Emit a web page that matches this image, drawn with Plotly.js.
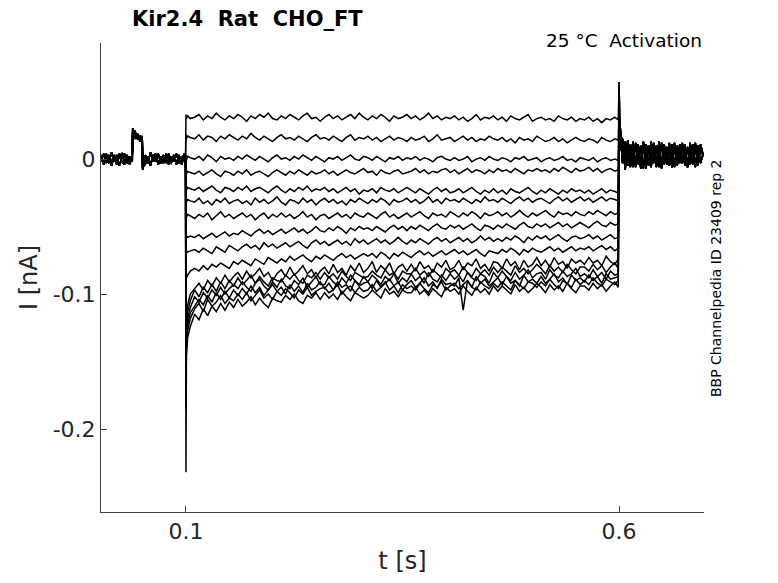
<!DOCTYPE html>
<html>
<head>
<meta charset="utf-8">
<script src="https://cdn.plot.ly/plotly-3.0.1.min.js"></script>
<style>
  body { margin: 0; background: #fff; }
  #chart { width: 778px; height: 583px; }
</style>
</head>
<body>
<div id="chart"></div>
<script>
// currents in pA, plotted in nA

// baseline before the step (three sweeps' worth of noise, small test pulse at ~0.04 s)
const tPre = [0.002, 0.005, 0.008, 0.011, 0.014, 0.017, 0.020, 0.023, 0.026, 0.029,
    0.032, 0.035, 0.038, 0.0385, 0.041, 0.044, 0.047, 0.0495, 0.050, 0.053,
    0.056, 0.059, 0.062, 0.065, 0.068, 0.071, 0.074, 0.077, 0.080, 0.083,
    0.086, 0.089, 0.092, 0.095, 0.098, 0.0995];
const preA = [3, -4, 2, -3, 5, -2, 3, -5, 1, 4, -3, 2, -2, 20, 16, 18, 14, 17, -6,
    -4, 2, -5, 3, -2, 4, -3, 1, 3, -4, 2, -2, 4, -3, 1, 3, 2];
const preB = [-2, 4, -3, 3, -5, 2, -3, 4, -2, -4, 3, -2, 3, 23, 15, 19, 13, 16, -8,
    2, -3, 5, -2, 3, -4, 2, -3, 4, -1, -3, 3, -4, 2, -2, 4, -2];
const preC = [2, -3, 4, -1, -2, 3, -4, 2, 4, -2, 1, -4, 2, 18, 21, 15, 17, 12, -7,
    3, -2, -4, 2, 4, -3, -2, 3, -3, 4, -2, 1, -3, 3, -4, 2, -3];

// the voltage step, 0.1 .. 0.6 s
const tStep = [0.1, 0.1005, 0.102, 0.105,
    0.110, 0.115, 0.120, 0.125, 0.130, 0.135, 0.140, 0.145, 0.150, 0.155,
    0.160, 0.165, 0.170, 0.175, 0.180, 0.185, 0.190, 0.195, 0.200, 0.205,
    0.210, 0.215, 0.220, 0.225, 0.230, 0.235, 0.240, 0.245, 0.250, 0.255,
    0.260, 0.265, 0.270, 0.275, 0.280, 0.285, 0.290, 0.295, 0.300, 0.305,
    0.310, 0.315, 0.320, 0.325, 0.330, 0.335, 0.340, 0.345, 0.350, 0.355,
    0.360, 0.365, 0.370, 0.375, 0.380, 0.385, 0.390, 0.395, 0.400, 0.405,
    0.410, 0.415, 0.420, 0.425, 0.430, 0.435, 0.440, 0.445, 0.450, 0.455,
    0.460, 0.465, 0.470, 0.475, 0.480, 0.485, 0.490, 0.495, 0.500, 0.505,
    0.510, 0.515, 0.520, 0.525, 0.530, 0.535, 0.540, 0.545, 0.550, 0.555,
    0.560, 0.565, 0.570, 0.575, 0.580, 0.585, 0.590, 0.595, 0.599];

const stepA = [33, 30, 32, 30,
    31, 33, 29, 32, 30, 34, 31, 29, 32, 30,
    33, 31, 28, 32, 30, 33, 31, 34, 30, 29,
    32, 30, 33, 31, 29, 32, 34, 30, 31, 28,
    31, 33, 30, 32, 29, 31, 33, 30, 34, 31,
    29, 32, 30, 33, 31, 28, 32, 30, 31, 33,
    30, 32, 29, 31, 34, 30, 32, 29, 31, 30,
    32, 29, 31, 28, 30, 33, 29, 31, 30, 32,
    29, 31, 28, 32, 30, 29, 31, 33, 28, 30,
    31, 29, 30, 28, 32, 30, 29, 31, 28, 30,
    29, 31, 28, 30, 27, 30, 29, 31, 29];
const stepB = [18, 15, 17, 16,
    15, 18, 14, 17, 16, 13, 17, 15, 18, 16,
    14, 17, 15, 19, 16, 14, 17, 15, 13, 16,
    18, 15, 16, 14, 17, 15, 13, 16, 18, 15,
    16, 14, 17, 15, 13, 16, 18, 14, 16, 15,
    17, 14, 16, 13, 15, 17, 14, 16, 15, 13,
    16, 14, 15, 17, 13, 15, 18, 14, 15, 16,
    13, 15, 17, 14, 16, 13, 15, 14, 17, 15,
    14, 16, 13, 15, 12, 16, 14, 15, 13, 17,
    15, 13, 14, 16, 13, 15, 12, 14, 16, 14,
    13, 15, 14, 12, 16, 14, 13, 15, 14];
const stepC = [3, -1, 2, 1,
    0, 2, -1, 3, 1, -2, 2, 0, 1, -1,
    2, 0, 3, 1, -1, 2, 0, -2, 1, 3,
    0, 1, -1, 2, 0, 3, 1, -1, 2, 0,
    -2, 1, 0, 2, -1, 1, 3, 0, -1, 2,
    1, -1, 2, 0, -2, 1, 0, 2, -1, 1,
    0, 2, -1, 1, 0, -2, 1, 2, 0, -1,
    1, -1, 0, 2, -2, 0, 1, -1, 2, 0,
    -1, 1, 0, -2, 1, 0, 2, -1, 0, 1,
    -2, 0, 1, -1, 0, 2, -1, 0, -2, 1,
    0, -1, 1, -2, 0, 1, -1, 0, -1];
const stepD = [-6, -11, -9, -10,
    -11, -9, -12, -10, -8, -11, -13, -9, -10, -12,
    -9, -11, -8, -12, -10, -9, -11, -13, -10, -8,
    -10, -12, -9, -11, -8, -10, -12, -9, -11, -10,
    -8, -11, -9, -12, -10, -8, -10, -11, -9, -7,
    -10, -9, -12, -8, -10, -11, -9, -8, -11, -10,
    -9, -7, -10, -8, -11, -9, -10, -8, -7, -10,
    -8, -11, -9, -7, -10, -8, -9, -11, -8, -10,
    -7, -9, -8, -10, -7, -9, -11, -8, -9, -7,
    -9, -8, -10, -7, -9, -6, -8, -10, -7, -9,
    -8, -6, -9, -7, -10, -8, -7, -9, -8];
const stepE = [-18, -23, -21, -22,
    -23, -21, -24, -22, -20, -23, -25, -21, -22, -24,
    -21, -23, -20, -24, -22, -21, -23, -25, -22, -20,
    -23, -25, -22, -24, -21, -23, -20, -24, -22, -23,
    -21, -24, -22, -25, -23, -21, -24, -22, -26, -23,
    -24, -22, -25, -21, -23, -24, -22, -25, -23, -21,
    -23, -25, -22, -24, -26, -23, -21, -24, -22, -25,
    -24, -22, -25, -23, -21, -24, -26, -23, -25, -22,
    -25, -23, -26, -22, -24, -25, -23, -21, -24, -26,
    -23, -25, -22, -24, -26, -23, -25, -22, -24, -23,
    -25, -23, -26, -24, -22, -25, -23, -24, -25];
const stepF = [-26, -32, -30, -31,
    -32, -29, -33, -31, -34, -30, -32, -29, -33, -31,
    -30, -33, -31, -34, -29, -32, -30, -33, -31, -28,
    -32, -34, -30, -31, -33, -29, -32, -30, -34, -31,
    -29, -32, -30, -33, -31, -34, -30, -32, -29, -31,
    -33, -30, -32, -29, -31, -34, -30, -32, -31, -29,
    -32, -30, -33, -31, -28, -32, -30, -33, -29, -31,
    -30, -32, -29, -31, -33, -30, -32, -28, -31, -30,
    -32, -29, -31, -33, -30, -28, -31, -29, -32, -30,
    -29, -31, -33, -30, -28, -31, -29, -32, -30, -28,
    -31, -29, -32, -30, -28, -31, -29, -30, -31];
const stepG = [-36, -43, -41, -42,
    -44, -41, -43, -40, -45, -42, -39, -43, -41, -44,
    -42, -40, -43, -41, -45, -42, -40, -44, -41, -43,
    -40, -43, -41, -44, -42, -39, -43, -41, -45, -42,
    -41, -44, -42, -40, -43, -41, -44, -40, -42, -43,
    -40, -42, -44, -41, -39, -43, -41, -44, -42, -40,
    -43, -41, -39, -42, -44, -40, -42, -41, -43, -39,
    -41, -43, -40, -42, -39, -41, -44, -40, -42, -41,
    -39, -42, -40, -43, -41, -38, -41, -43, -40, -42,
    -40, -38, -41, -43, -39, -41, -40, -42, -39, -41,
    -42, -39, -41, -38, -40, -42, -39, -41, -40];
const stepH = [-48, -57, -58, -57,
    -58, -56, -59, -57, -55, -58, -56, -54, -57, -55,
    -56, -53, -55, -57, -54, -52, -55, -53, -56, -54,
    -52, -55, -53, -51, -54, -52, -55, -53, -50, -53,
    -54, -51, -53, -50, -52, -55, -51, -53, -50, -52,
    -51, -53, -50, -52, -54, -51, -49, -52, -50, -53,
    -50, -52, -49, -51, -53, -50, -48, -51, -52, -49,
    -51, -49, -52, -50, -48, -51, -53, -49, -50, -52,
    -49, -51, -48, -50, -52, -49, -47, -50, -51, -48,
    -50, -48, -51, -49, -47, -50, -48, -51, -49, -47,
    -49, -51, -48, -46, -49, -50, -47, -49, -48];
const stepI = [-58, -68, -69, -68,
    -67, -69, -66, -68, -70, -65, -67, -69, -64, -66,
    -68, -65, -63, -66, -64, -67, -62, -65, -63, -66,
    -64, -62, -65, -63, -61, -64, -66, -62, -60, -63,
    -61, -64, -62, -60, -63, -61, -64, -59, -62, -60,
    -63, -61, -59, -62, -60, -63, -61, -58, -61, -63,
    -60, -62, -59, -61, -63, -60, -58, -61, -59, -62,
    -60, -58, -61, -59, -62, -60, -57, -60, -58, -61,
    -59, -61, -58, -60, -57, -59, -62, -58, -60, -57,
    -59, -57, -60, -58, -56, -59, -61, -58, -57, -59,
    -58, -56, -59, -57, -60, -58, -56, -59, -58];
const stepJ = [-72, -88, -86, -83,
    -81, -83, -79, -82, -78, -80, -77, -79, -81, -76,
    -78, -75, -77, -79, -74, -76, -78, -73, -75, -77,
    -74, -76, -72, -75, -73, -71, -74, -76, -72, -74,
    -71, -73, -75, -72, -70, -73, -71, -74, -72, -70,
    -72, -70, -73, -69, -71, -74, -70, -72, -69, -71,
    -73, -70, -68, -71, -69, -72, -70, -68, -71, -69,
    -67, -70, -68, -71, -69, -67, -70, -72, -68, -69,
    -70, -67, -69, -66, -68, -71, -67, -69, -66, -68,
    -69, -67, -65, -68, -66, -69, -67, -65, -68, -66,
    -67, -65, -68, -66, -64, -67, -65, -68, -66];
const stepK = [-130, -118, -108, -100,
    -96, -92, -97, -90, -94, -88, -92, -86, -91, -87,
    -84, -89, -83, -88, -85, -81, -87, -84, -90, -85,
    -82, -87, -80, -86, -83, -79, -85, -82, -88, -83,
    -80, -85, -78, -84, -81, -86, -79, -83, -77, -84,
    -81, -76, -84, -79, -82, -77, -85, -80, -78, -83,
    -78, -83, -76, -81, -79, -84, -77, -80, -75, -82,
    -80, -75, -82, -77, -79, -74, -81, -78, -83, -76,
    -77, -81, -74, -79, -76, -82, -75, -80, -78, -73,
    -79, -75, -80, -73, -78, -76, -81, -74, -77, -75,
    -78, -73, -77, -75, -79, -72, -76, -78, -74];
const stepL = [-145, -125, -113, -105,
    -97, -102, -95, -99, -93, -98, -91, -96, -90, -94,
    -88, -93, -90, -86, -92, -87, -91, -94, -88, -90,
    -91, -86, -89, -85, -90, -92, -86, -88, -84, -89,
    -84, -88, -85, -89, -83, -87, -90, -84, -86, -88,
    -87, -83, -86, -88, -82, -86, -84, -89, -83, -85,
    -85, -81, -86, -83, -87, -82, -85, -88, -81, -84,
    -82, -86, -80, -84, -87, -81, -85, -82, -86, -80,
    -84, -80, -83, -86, -79, -84, -81, -85, -82, -78,
    -81, -85, -79, -83, -80, -84, -78, -82, -85, -80,
    -80, -83, -78, -82, -79, -84, -80, -77, -81];
const stepM = [-155, -130, -118, -110,
    -102, -106, -99, -103, -97, -101, -95, -100, -96, -93,
    -96, -91, -95, -98, -92, -89, -94, -97, -91, -95,
    -89, -94, -96, -90, -93, -88, -95, -91, -87, -93,
    -93, -87, -91, -94, -88, -92, -86, -90, -93, -87,
    -91, -86, -89, -93, -87, -90, -85, -92, -88, -91,
    -85, -90, -87, -92, -84, -89, -91, -86, -90, -85,
    -89, -86, -91, -84, -88, -90, -85, -87, -92, -84,
    -88, -83, -87, -90, -84, -89, -86, -82, -88, -85,
    -84, -89, -82, -86, -88, -83, -87, -85, -81, -87,
    -85, -88, -82, -87, -84, -89, -83, -86, -85];
const stepN = [-170, -135, -122, -114,
    -109, -104, -108, -101, -106, -99, -104, -98, -103, -97,
    -101, -96, -100, -94, -99, -95, -101, -97, -93, -98,
    -95, -100, -93, -98, -94, -99, -92, -97, -95, -91,
    -96, -92, -97, -91, -95, -93, -98, -90, -94, -92,
    -91, -96, -90, -95, -92, -89, -94, -91, -97, -93,
    -90, -95, -92, -88, -94, -91, -96, -89, -93, -92,
    -94, -88, -112, -90, -95, -87, -92, -89, -94, -91,
    -88, -93, -87, -92, -90, -94, -86, -91, -89, -92,
    -87, -92, -89, -85, -91, -88, -93, -86, -90, -88,
    -91, -86, -90, -87, -92, -85, -89, -88, -87];
const stepO = [-185, -140, -127, -118,
    -111, -107, -113, -104, -109, -106, -101, -107, -103, -105,
    -100, -104, -99, -105, -101, -97, -103, -100, -104, -98,
    -101, -96, -99, -103, -97, -100, -95, -101, -98, -96,
    -95, -99, -97, -93, -100, -96, -94, -99, -95, -98,
    -97, -93, -98, -95, -91, -97, -94, -99, -93, -96,
    -94, -97, -92, -96, -99, -93, -95, -91, -97, -94,
    -92, -96, -93, -90, -95, -97, -91, -94, -96, -92,
    -95, -91, -94, -97, -90, -93, -96, -91, -92, -95,
    -91, -94, -89, -93, -96, -90, -92, -95, -89, -93,
    -90, -93, -88, -92, -94, -89, -91, -93, -90];
const stepP = [-232, -145, -132, -124,
    -115, -119, -111, -116, -109, -113, -107, -112, -106, -110,
    -104, -109, -106, -102, -108, -103, -107, -110, -103, -105,
    -106, -101, -104, -100, -105, -107, -101, -103, -99, -104,
    -99, -103, -100, -104, -98, -102, -105, -99, -101, -103,
    -101, -97, -100, -103, -96, -100, -98, -102, -97, -99,
    -99, -95, -100, -97, -101, -96, -99, -102, -95, -98,
    -96, -100, -94, -98, -101, -95, -99, -96, -100, -94,
    -98, -94, -97, -100, -93, -98, -95, -99, -96, -92,
    -95, -99, -93, -97, -94, -98, -92, -96, -99, -94,
    -94, -97, -92, -96, -93, -98, -94, -91, -95];

// after the step (tail, with the capacity spike at 0.6 s)
const tPost = [0.6, 0.6005, 0.602, 0.604, 0.607, 0.610, 0.613, 0.616, 0.619, 0.622,
    0.625, 0.628, 0.631, 0.634, 0.637, 0.640, 0.643, 0.646, 0.649, 0.652,
    0.655, 0.658, 0.661, 0.664, 0.667, 0.670, 0.673, 0.676, 0.679, 0.682,
    0.685, 0.688, 0.691, 0.694, 0.697];
const postA = [57, 30, 18, 12, -4, 14, -6, 12, -5, 11, -7, 13, -4, 10, -6, 12, -5, 9,
    -7, 11, -4, 10, -6, 12, -5, 9, -3, 11, -6, 10, -4, 12, -5, 9, 2];
const postB = [35, 22, 14, -3, 13, -5, 11, -6, 12, -4, 10, -7, 11, -5, 13, -3, 10, -6,
    12, -4, 9, -5, 11, -6, 10, -3, 12, -5, 9, -4, 11, -6, 10, -3, 4];
const postC = [20, 15, 6, 15, -8, 10, -5, 13, -6, 9, -4, 12, -7, 10, -3, 11, -6, 13,
    -5, 8, -4, 12, -6, 10, -5, 11, -3, 9, -6, 12, -4, 10, -5, 11, 3];

const xTickVals = [0.1, 0.6];
const xTickText = ['0.1', '0.6'];
const yTickVals = [-0.2, -0.1, 0];
const yTickText = ['-0.2', '-0.1', '0'];

const stepSweeps = [stepA, stepB, stepC, stepD, stepE, stepF, stepG, stepH,
    stepI, stepJ, stepK, stepL, stepM, stepN, stepO, stepP];
const preSweeps = [preA, preB, preC];
const postSweeps = [postA, postB, postC];

const tAll = tPre.concat(tStep, tPost);
const traces = stepSweeps.map(function (sweep, k) {
    const pA = preSweeps[k % 3].concat(sweep, postSweeps[k % 3]);
    return {
        x: tAll,
        y: pA.map(v => v / 1000),
        mode: 'lines',
        line: {color: 'black', width: 1.5},
        showlegend: false,
        hoverinfo: 'skip'
    };
});

const axisFont = {family: 'DejaVu Sans', size: 22, color: '#262626'};
const titleFont = {family: 'DejaVu Sans', size: 24, color: '#262626'};

const layout = {
    width: 778,
    height: 583,
    margin: {l: 101, r: 74, t: 43, b: 71},
    paper_bgcolor: 'white',
    plot_bgcolor: 'white',
    showlegend: false,
    xaxis: {
        range: [0.0019, 0.698],
        tickvals: xTickVals,
        ticktext: xTickText,
        ticks: 'inside',
        ticklen: 6,
        tickcolor: '#404040',
        tickfont: axisFont,
        showline: true,
        linecolor: '#404040',
        linewidth: 1,
        showgrid: false,
        zeroline: false,
        title: {text: 't [s]', font: titleFont, standoff: 8}
    },
    yaxis: {
        range: [-0.2615, 0.086],
        tickvals: yTickVals,
        ticktext: yTickText,
        ticks: 'inside',
        ticklen: 6,
        tickcolor: '#404040',
        tickfont: axisFont,
        showline: true,
        linecolor: '#404040',
        linewidth: 1,
        showgrid: false,
        zeroline: false,
        title: {text: 'I [nA]', font: titleFont, standoff: 8}
    },
    annotations: [
        {
            text: 'Kir2.4\u00a0\u00a0Rat\u00a0\u00a0CHO_FT',
            xref: 'paper', yref: 'paper',
            x: 0.048, y: 1.051, xanchor: 'left', yanchor: 'middle',
            showarrow: false,
            font: {family: 'DejaVu Sans', size: 21, color: 'black', weight: 'bold'}
        },
        {
            text: '25 \u00b0C\u00a0\u00a0Activation',
            xref: 'paper', yref: 'paper',
            x: 1, y: 1.006, xanchor: 'right', yanchor: 'middle',
            showarrow: false,
            font: {family: 'DejaVu Sans', size: 18.5, color: 'black'}
        },
        {
            text: 'BBP Channelpedia ID 23409 rep 2',
            xref: 'paper', yref: 'paper',
            x: 1.02, y: 0.499, xanchor: 'center', yanchor: 'middle',
            textangle: -90,
            showarrow: false,
            font: {family: 'DejaVu Sans', size: 14, color: 'black'}
        }
    ]
};

const config = {
    displayModeBar: false,
    staticPlot: true
};

Plotly.newPlot('chart', traces, layout, config);
</script>
</body>
</html>
